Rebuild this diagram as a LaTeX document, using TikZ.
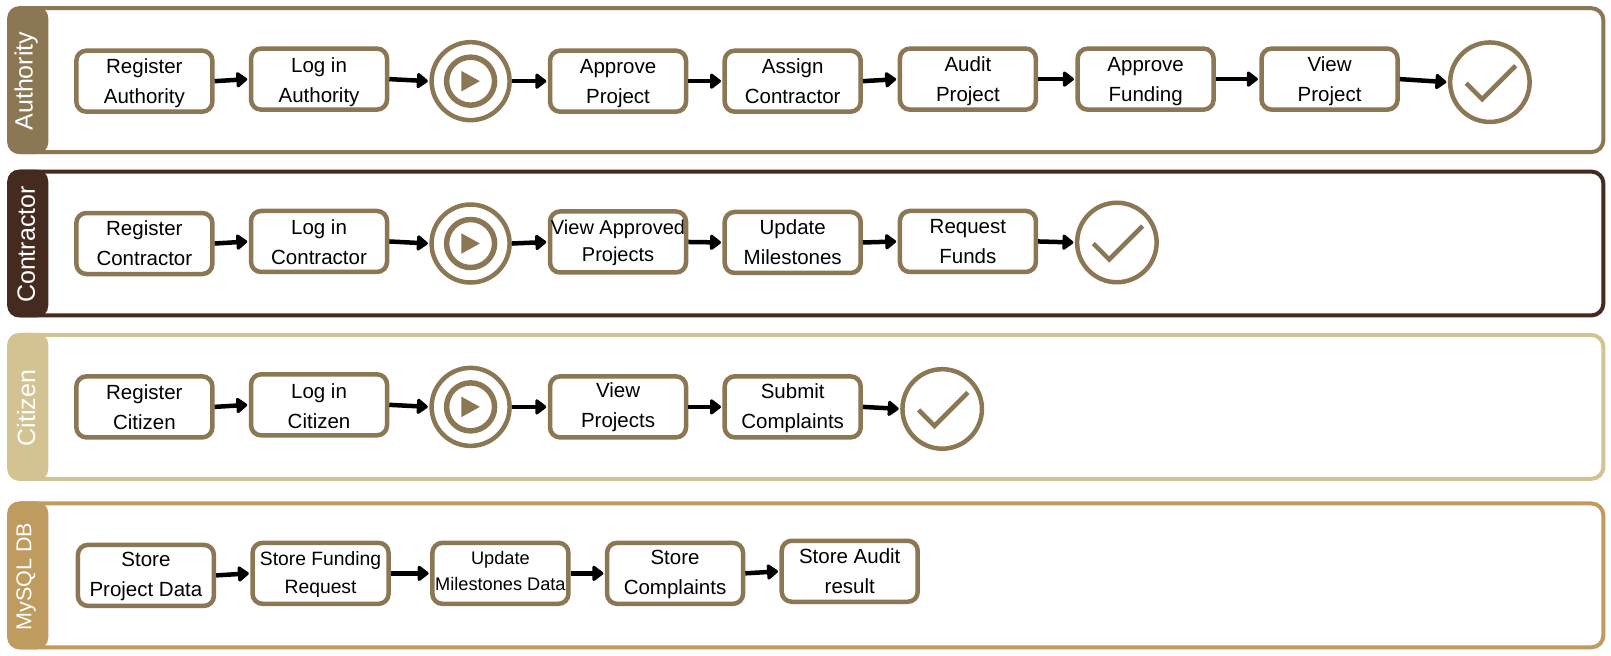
\documentclass[tikz,border=0pt]{standalone}
\usepackage{fontspec}
\setmainfont{Liberation Sans}
\usetikzlibrary{arrows.meta}
\definecolor{authc}{HTML}{8B7753}
\definecolor{contc}{HTML}{452B1F}
\definecolor{citc}{HTML}{D4C392}
\definecolor{dbc}{HTML}{BF9B5F}
\definecolor{boxc}{HTML}{8B7753}
\tikzset{
 x=1.0275pt,y=-1.0275pt,
 procbox/.style={draw=boxc,line width=4.5pt,rounded corners=10pt,fill=white,minimum width=136pt,minimum height=61pt,inner sep=0pt,font=\fontsize{20.5}{30}\selectfont,text=black},
 smalltxt/.style={font=\fontsize{20}{27.5}\selectfont},
 fundtxt/.style={font=\fontsize{19.3}{28.5}\selectfont},
 tinytxt/.style={font=\fontsize{18.2}{26}\selectfont},
 flow/.style={draw=black,line width=4.5pt,-{Triangle[length=12pt,width=17.5pt,round]},shorten >=1.5pt},
 startev/.style={draw=boxc,circle,line width=4.5pt,minimum size=78pt,inner sep=0pt,fill=white},
 endev/.style={draw=boxc,circle,line width=4.5pt,minimum size=79.5pt,inner sep=0pt,fill=white},
 lanetitle/.style={rotate=90,text=white,font=\fontsize{25}{28}\selectfont},
}
\newcommand{\tl}[3][0]{\raisebox{\dimexpr -6.5pt - #1pt\relax}[0pt][0pt]{\begin{tabular}[c]{@{}c@{}}#2\\#3\end{tabular}}}
\newcommand{\lane}[6][]{% opts, name, color, top, bottom, title
 \draw[draw=#3,line width=4pt,rounded corners=12pt,fill=white] (9,#4) rectangle (1560.5,#5);
 \fill[#3,rounded corners=12pt] (7,#4-2) rectangle (47,#5+2);
 \node[lanetitle,#1] (#2) at (25.5,{(#4+#5)/2+1}) {#6};
}
\newcommand{\playmk}[1]{%
 \begin{scope}[shift={(#1.center)}]
 \draw[boxc,line width=5.5pt] (0,0) circle (24pt);
 \fill[boxc] (-9,-10) -- (9,0) -- (-9,10) -- cycle;
 \end{scope}}
\newcommand{\checkmk}[1]{%
 \begin{scope}[shift={(#1.center)}]
 \draw[boxc,line width=4.5pt] (-23,1) -- (-7.5,16.5) -- (25,-16);
 \end{scope}}
\begin{document}
\begin{tikzpicture}
\useasboundingbox (0,0) rectangle (1567.9,638.4);
\fill[white] (0,0) rectangle (1567.9,638.4);
\lane{tauth}{authc}{8}{148}{Authority}
\lane{tcont}{contc}{167}{307}{Contractor}
\lane{tcit}{citc}{326}{466}{Citizen}
\lane[font=\fontsize{21.5}{24}\selectfont]{tdb}{dbc}{490}{630}{MySQL DB}
% Authority
\node[procbox] (a1) at (140.5,79) {\tl{Register}{Authority}};
\node[procbox] (a2) at (310.5,77) {\tl[1.5]{Log in}{Authority}};
\node[startev] (a3) at (458,79) {}; \playmk{a3}
\node[procbox] (a4) at (601.5,79) {\tl[0.5]{Approve}{Project}};
\node[procbox] (a5) at (771.5,79) {\tl[0.5]{Assign}{Contractor}};
\node[procbox] (a6) at (942,77) {\tl{Audit}{Project}};
\node[procbox] (a7) at (1115,77) {\tl{Approve}{Funding}};
\node[procbox] (a8) at (1294,77) {\tl{View}{Project}};
\node[endev] (a9) at (1450,80) {}; \checkmk{a9}
\draw[flow] (a1.east)--(a2.west);
\draw[flow] (a2.east)--(a3.west);
\draw[flow] (a3.east)--(a4.west);
\draw[flow] (a4.east)--(a5.west);
\draw[flow] (a5.east)--(a6.west);
\draw[flow] (a6.east)--(a7.west);
\draw[flow] (a7.east)--(a8.west);
\draw[flow] (a8.east)--(a9.west);
% Contractor
\node[procbox] (c1) at (140.5,237) {\tl{Register}{Contractor}};
\node[procbox] (c2) at (310.5,235) {\tl[1]{Log in}{Contractor}};
\node[startev] (c3) at (458,237) {}; \playmk{c3}
\node[procbox,smalltxt] (c4) at (601.5,235.5) {\tl[-1]{View Approved}{Projects}};
\node[procbox] (c5) at (771.5,236) {\tl{Update}{Milestones}};
\node[procbox] (c6) at (942,235) {\tl{Request}{Funds}};
\node[endev] (c7) at (1087,236) {}; \checkmk{c7}
\draw[flow] (c1.east)--(c2.west);
\draw[flow] (c2.east)--(c3.west);
\draw[flow] (c3.east)--(c4.west);
\draw[flow] (c4.east)--(c5.west);
\draw[flow] (c5.east)--(c6.west);
\draw[flow] (c6.east)--(c7.west);
% Citizen
\node[procbox] (z1) at (140.5,396) {\tl{Register}{Citizen}};
\node[procbox] (z2) at (310.5,394) {\tl[1.5]{Log in}{Citizen}};
\node[startev] (z3) at (458,396) {}; \playmk{z3}
\node[procbox] (z4) at (601.5,396) {\tl[-1.5]{View}{Projects}};
\node[procbox] (z5) at (771.5,396) {\tl[-0.5]{Submit}{Complaints}};
\node[endev] (z6) at (917,398) {}; \checkmk{z6}
\draw[flow] (z1.east)--(z2.west);
\draw[flow] (z2.east)--(z3.west);
\draw[flow] (z3.east)--(z4.west);
\draw[flow] (z4.east)--(z5.west);
\draw[flow] (z5.east)--(z6.west);
% DB
\node[procbox] (d1) at (142,560) {\tl[-1]{Store}{Project Data}};
\node[procbox,fundtxt] (d2) at (312,558) {\tl[-1]{Store Funding}{Request}};
\node[procbox,tinytxt] (d3) at (487,558) {\tl[-3.5]{Update}{Milestones Data}};
\node[procbox] (d4) at (657,558) {\tl[-1]{Store}{Complaints}};
\node[procbox] (d5) at (827,556) {\tl[-0.5]{Store Audit}{result}};
\draw[flow] (d1.east)--(d2.west);
\draw[flow] (d2.east)--(d3.west);
\draw[flow] (d3.east)--(d4.west);
\draw[flow] (d4.east)--(d5.west);
\end{tikzpicture}
\end{document}
